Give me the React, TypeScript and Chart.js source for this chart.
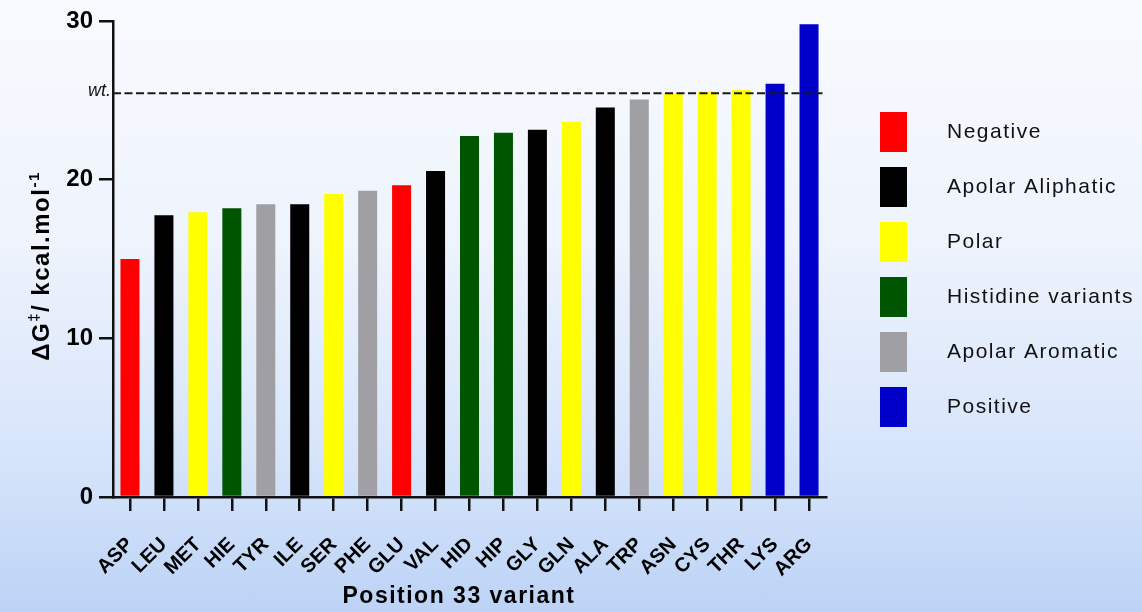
import React, { useEffect, useRef } from "react";
import { Chart, registerables } from "chart.js";

Chart.register(...registerables);

const variants = ["ASP", "LEU", "MET", "HIE", "TYR", "ILE", "SER", "PHE", "GLU", "VAL", "HID", "HIP", "GLY", "GLN", "ALA", "TRP", "ASN", "CYS", "THR", "LYS", "ARG"];
const barrier = [15.0, 17.75, 17.95, 18.2, 18.45, 18.45, 19.1, 19.3, 19.65, 20.55, 22.75, 22.95, 23.15, 23.65, 24.55, 25.05, 25.45, 25.55, 25.65, 26.05, 29.8];
const groupOf = ["Negative", "Apolar Aliphatic", "Polar", "Histidine variants", "Apolar Aromatic", "Apolar Aliphatic", "Polar", "Apolar Aromatic", "Negative", "Apolar Aliphatic", "Histidine variants", "Histidine variants", "Apolar Aliphatic", "Polar", "Apolar Aliphatic", "Apolar Aromatic", "Polar", "Polar", "Polar", "Positive", "Positive"];
const groups = ["Negative", "Apolar Aliphatic", "Polar", "Histidine variants", "Apolar Aromatic", "Positive"];
const groupColors = ["#ff0000", "#000000", "#ffff00", "#005500", "#a0a0a4", "#0000c8"];
const wildType = 25.45;
const wildLabel = "wt.";
const yTicks = [0, 10, 20, 30];
const xTitle = "Position 33 variant";

const FONT = '"Liberation Sans", Arial, sans-serif';

const overlay = {
  id: "overlay",
  afterDatasetsDraw(chart: any) {
    const { ctx, chartArea, scales } = chart;
    const y = scales.y;
    const py = y.getPixelForValue(wildType);
    ctx.save();
    ctx.setLineDash([8, 3.5]);
    ctx.lineWidth = 2;
    ctx.strokeStyle = "#1a1a1a";
    ctx.beginPath();
    ctx.moveTo(chartArea.left, py);
    ctx.lineTo(chartArea.right, py);
    ctx.stroke();
    ctx.setLineDash([]);
    ctx.fillStyle = "#111";
    ctx.font = `italic 18px ${FONT}`;
    ctx.textAlign = "right";
    ctx.textBaseline = "alphabetic";
    ctx.fillText(wildLabel, chartArea.left - 2, py + 3);
    ctx.restore();
  },
  afterDraw(chart: any) {
    const { ctx } = chart;
    ctx.save();
    groups.forEach((g, i) => {
      const top = 112 + i * 55;
      ctx.fillStyle = groupColors[i];
      ctx.fillRect(880, top, 27, 40);
      ctx.fillStyle = "#111";
      ctx.font = `21px ${FONT}`;
      (ctx as any).letterSpacing = "1.5px";
      ctx.textAlign = "left";
      ctx.textBaseline = "middle";
      ctx.fillText(g, 947, top + 20);
    });
    ctx.font = `bold 23px ${FONT}`;
    (ctx as any).letterSpacing = "1.5px";
    ctx.textAlign = "center";
    ctx.textBaseline = "middle";
    ctx.fillStyle = "#000";
    ctx.fillText(xTitle, 459, 597);
    (ctx as any).letterSpacing = "1.5px";
    const parts: [string, boolean][] = [["\u0394G", false], ["\u2021", true], ["/ kcal.mol", false], ["-1", true]];
    const big = `bold 24px ${FONT}`;
    const small = `bold 15px ${FONT}`;
    let total = 0;
    parts.forEach(([t, sup]) => {
      ctx.font = sup ? small : big;
      total += ctx.measureText(t).width;
    });
    ctx.translate(41, 266);
    ctx.rotate(-Math.PI / 2);
    ctx.textAlign = "left";
    ctx.textBaseline = "alphabetic";
    let x = -total / 2;
    parts.forEach(([t, sup]) => {
      ctx.font = sup ? small : big;
      ctx.fillText(t, x, sup ? -2 : 8);
      x += ctx.measureText(t).width;
    });
    ctx.restore();
  },
};

export default function App() {
  const ref = useRef<HTMLCanvasElement>(null);
  useEffect(() => {
    if (!ref.current) return;
    const chart = new Chart(ref.current, {
      type: "bar",
      data: {
        labels: variants,
        datasets: [
          {
            data: barrier,
            backgroundColor: groupOf.map((g) => groupColors[groups.indexOf(g)]),
            borderWidth: 0,
            barPercentage: 0.56,
            categoryPercentage: 1,
          },
        ],
      },
      options: {
        responsive: false,
        devicePixelRatio: 1,
        animation: false,
        layout: { padding: { top: 21, right: 316, left: 0, bottom: 0 } },
        plugins: { legend: { display: false }, tooltip: { enabled: false } },
        scales: {
          x: {
            grid: { display: true, drawOnChartArea: false, drawTicks: true, tickLength: 14, color: "#111", lineWidth: 2.5, offset: false },
            border: { display: true, color: "#111", width: 2.5 },
            ticks: {
              color: "#000",
              font: { family: FONT, weight: "bold", size: 20 },
              minRotation: 45,
              maxRotation: 45,
              padding: 22,
              autoSkip: false,
            },
            afterFit: (s: any) => {
              s.height = 115;
            },
          },
          y: {
            min: 0,
            max: 30,
            afterBuildTicks: (s: any) => {
              s.ticks = yTicks.map((v) => ({ value: v }));
            },
            grid: { display: true, drawOnChartArea: false, drawTicks: true, tickLength: 14, color: "#111", lineWidth: 2.5 },
            border: { display: true, color: "#111", width: 2.5 },
            ticks: { color: "#000", font: { family: FONT, weight: "bold", size: 24 }, padding: 6 },
            afterFit: (s: any) => {
              s.width = 113;
            },
          },
        },
      } as any,
      plugins: [overlay],
    });
    return () => chart.destroy();
  }, []);
  return (
    <div
      style={{
        position: "fixed",
        left: 0,
        top: 0,
        width: 1142,
        height: 612,
        background: "linear-gradient(to bottom, #f8fafe 0%, #eef3fc 40%, #d6e4fa 75%, #bcd3f6 100%)",
      }}
    >
      <canvas ref={ref} width={1142} height={612} style={{ display: "block" }} />
    </div>
  );
}
